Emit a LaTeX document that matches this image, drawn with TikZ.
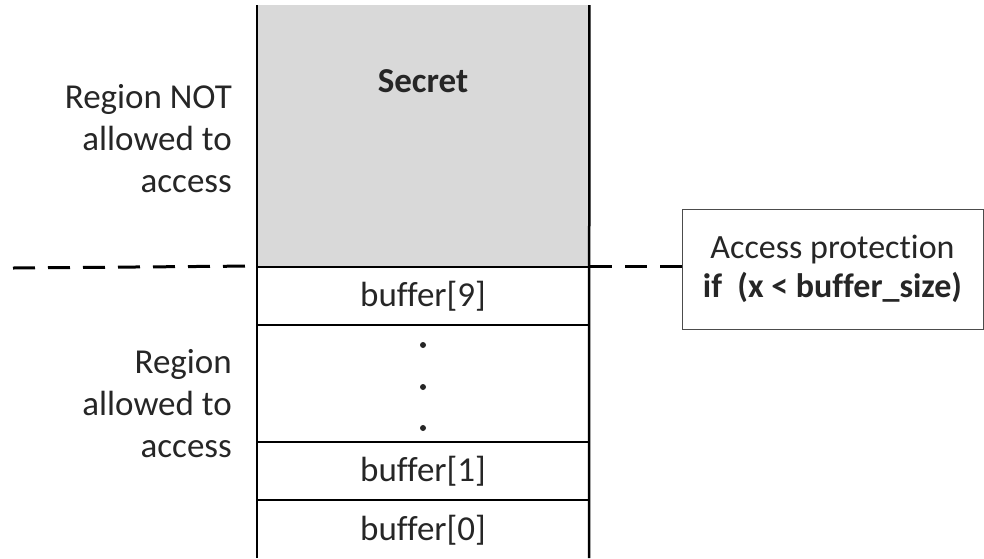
\documentclass[tikz,border=0pt]{standalone}
\usepackage{fontspec}
\setmainfont{Carlito}[Ligatures=NoCommon]
\usepackage{tikz}
\usetikzlibrary{positioning}
\definecolor{secretgray}{HTML}{D9D9D9}
\definecolor{textgray}{HTML}{262626}

\tikzset{
  cell/.style={draw=black, line width=2pt, minimum width=332pt, minimum height=58pt, inner sep=0pt, text=textgray},
  sidetext/.style={align=right, anchor=east, text=textgray, inner sep=0pt},
  colline/.style={black, line width=2.5pt},
  cutline/.style={black, line width=3pt, dash pattern=on 22pt off 13pt},
  dotnode/.style={circle, fill=textgray, inner sep=0pt, minimum size=6pt},
}

\begin{document}
\begin{tikzpicture}[x=1pt,y=-1pt, font=\fontsize{35}{42}\selectfont]
\clip (0,0) rectangle (984,558);
% secret part of memory
\node[fill=secretgray, minimum width=332pt, minimum height=262pt, inner sep=0pt, anchor=north west] (secret) at (257,5) {};
\node[text=textgray, font=\fontsize{35}{42}\selectfont\bfseries] (secrettxt) at (423,81) {Secret};
% buffer cells
\node[cell] (buf9) at (423,296) {buffer[9]};
\node[cell] (buf1) at (423,471) {buffer[1]};
\node[text=textgray, inner sep=0pt] (buf0) at (423,530) {buffer[0]};
\node[dotnode] (dota) at (423,345) {};
\node[dotnode] (dotb) at (423,387) {};
\node[dotnode] (dotc) at (423,428) {};
% column sides
\coordinate (botL) at (257,558);
\coordinate (botR) at (589,558);
\draw[colline] (secret.north west) -- (botL);
\draw[colline] (secret.north east) -- (botR);
% access check
\node[draw=black!70, line width=1pt, minimum width=301pt, minimum height=120pt, align=center, text=textgray, font=\fontsize{34}{39}\selectfont] (guard) at (832.5,269)
  {Access protection\\\textbf{if\ \ (x < buffer\_size)}};
\coordinate (dashL) at (13,268);
\draw[cutline] (dashL) -- (buf9.north west);
\draw[cutline] (buf9.north east) -- (buf9.north east -| guard.west);
% labels
\node[sidetext] (notallowed) at (232,139) {Region NOT\\allowed to\\access};
\node[sidetext] (allowed) at (232,404) {Region\\allowed to\\access};
\end{tikzpicture}
\end{document}
